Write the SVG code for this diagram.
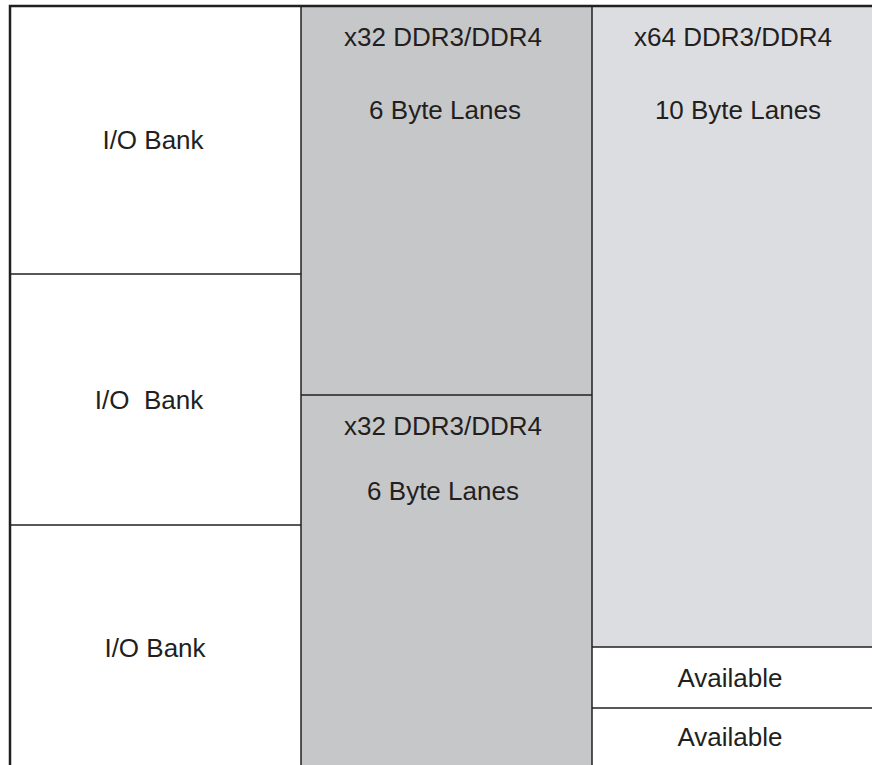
<svg xmlns="http://www.w3.org/2000/svg" width="872" height="765" viewBox="0 0 872 765">
<style>
.t{font-family:"Liberation Sans",Arial,sans-serif;font-size:26px;fill:#231f20;text-anchor:middle;white-space:pre}
.ln{stroke:#231f20;stroke-width:1.5;fill:none}
.frame{stroke:#231f20;stroke-width:2.5;fill:none}
</style>
<rect x="0" y="0" width="872" height="765" fill="#ffffff"/>
<g id="io-bank-1">
<rect x="10" y="6" width="291" height="268" fill="#ffffff"/>
<text class="t" x="153" y="149">I/O Bank</text>
</g>
<g id="io-bank-2">
<rect x="10" y="274" width="291" height="251" fill="#ffffff"/>
<text class="t" x="149" y="409">I/O  Bank</text>
</g>
<g id="io-bank-3">
<rect x="10" y="525" width="291" height="240" fill="#ffffff"/>
<text class="t" x="155" y="657">I/O Bank</text>
</g>
<g id="x32-a">
<rect x="301" y="6" width="291" height="389" fill="#c6c7c9"/>
<text class="t" x="443" y="46">x32 DDR3/DDR4</text>
<text class="t" x="445" y="119">6 Byte Lanes</text>
</g>
<g id="x32-b">
<rect x="301" y="395" width="291" height="370" fill="#c6c7c9"/>
<text class="t" x="443" y="435">x32 DDR3/DDR4</text>
<text class="t" x="443" y="500">6 Byte Lanes</text>
</g>
<g id="x64">
<rect x="592" y="6" width="280" height="641" fill="#dcdde0"/>
<text class="t" x="733" y="46">x64 DDR3/DDR4</text>
<text class="t" x="738" y="119">10 Byte Lanes</text>
</g>
<g id="available-1">
<rect x="592" y="647" width="280" height="61" fill="#ffffff"/>
<text class="t" x="730" y="687">Available</text>
</g>
<g id="available-2">
<rect x="592" y="708" width="280" height="57" fill="#ffffff"/>
<text class="t" x="730" y="746">Available</text>
</g>
<g id="connectors">
<line class="ln" x1="301" y1="6" x2="301" y2="765"/>
<line class="ln" x1="592" y1="6" x2="592" y2="765"/>
<line class="ln" x1="10" y1="274" x2="301" y2="274"/>
<line class="ln" x1="10" y1="525" x2="301" y2="525"/>
<line class="ln" x1="301" y1="395" x2="592" y2="395"/>
<line class="ln" x1="592" y1="647" x2="872" y2="647"/>
<line class="ln" x1="592" y1="708" x2="872" y2="708"/>
<polyline class="frame" points="10,765 10,6 872,6"/>
</g>
</svg>
